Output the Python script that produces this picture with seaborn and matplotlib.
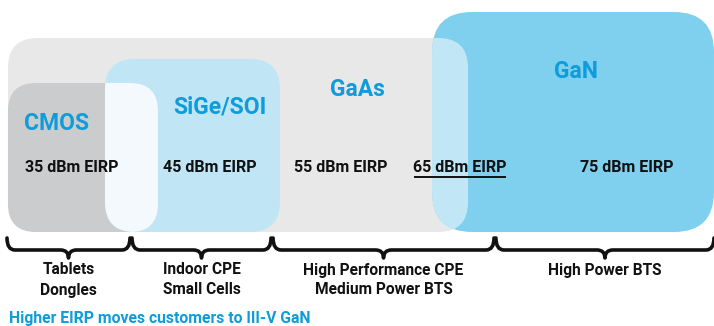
import matplotlib
matplotlib.use("Agg")
import matplotlib.pyplot as plt
from matplotlib.patches import FancyBboxPatch, PathPatch
from matplotlib.path import Path
import seaborn as sns

# Technologies and the EIRP range (dBm) each one covers
technologies = ["CMOS", "SiGe/SOI", "GaAs", "GaN"]
tech_low_dbm = [30.36, 37.39, 30.36, 61.09]
tech_high_dbm = [41.23, 50.07, 63.70, 81.52]

# EIRP levels shown across the chart
eirp_levels = [35, 45, 55, 65, 75]
eirp_labels = [f"{v} dBm EIRP" for v in eirp_levels]

# Application segments with their EIRP spans
applications = ["Tablets\nDongles", "Indoor CPE\nSmall Cells",
                "High Performance CPE\nMedium Power BTS", "High Power BTS"]
app_low_dbm = [30.29, 39.35, 49.57, 65.72]
app_high_dbm = [39.20, 49.42, 65.58, 81.52]

footnote = "Higher EIRP moves customers to III-V GaN"

sns.set_theme(style="white")
plt.rcParams["font.family"] = ["Roboto", "DejaVu Sans"]

W, H = 714, 326
fig = plt.figure(figsize=(W / 100, H / 100), dpi=100)
ax = fig.add_axes([0, 0, 1, 1])
PX = 13.8  # pixels per dBm on the horizontal axis
x_left = 35 - 72 / PX
ax.set_xlim(x_left, x_left + W / PX)
ax.set_ylim(H, 0)
ax.axis("off")

blue_text = "#0e9cdb"
ink = "#111111"

# Box layout (vertical extent in pixel rows, corner radius in pixels)
box_style = {
    "GaAs": dict(top=38, bottom=232, r=30, color="#e8e8e8"),
    "CMOS": dict(top=83, bottom=232, r=28, color="#cbcccd"),
    "SiGe/SOI": dict(top=59, bottom=232, r=30, color="#c0e6f6"),
    "GaN": dict(top=12, bottom=232, r=40, color="#7fcfee"),
}
name_pos = {"CMOS": (33.87, 123), "SiGe/SOI": (45.69, 107),
            "GaAs": (55.72, 89), "GaN": (71.52, 72)}

rng = dict(zip(technologies, zip(tech_low_dbm, tech_high_dbm)))


def rbox(name, color, z):
    s = box_style[name]
    x0, x1 = rng[name]
    p = FancyBboxPatch((x0, s["top"]), x1 - x0, s["bottom"] - s["top"],
                       boxstyle=f"round,pad=0,rounding_size={s['r'] / PX}",
                       mutation_aspect=PX, fc=color, ec="none", zorder=z)
    ax.add_patch(p)
    return p


gaas = rbox("GaAs", box_style["GaAs"]["color"], 1)
cmos = rbox("CMOS", box_style["CMOS"]["color"], 2)
rbox("SiGe/SOI", box_style["SiGe/SOI"]["color"], 3)
# where CMOS and SiGe/SOI overlap
rbox("SiGe/SOI", "#f3f9fc", 4).set_clip_path(cmos)
rbox("GaN", box_style["GaN"]["color"], 5)
# where GaAs and GaN overlap
rbox("GaN", "#c1e7f7", 6).set_clip_path(gaas)

for name in technologies:
    x, y = name_pos[name]
    ax.text(x, y, name, ha="center", va="center", fontsize=16.5,
            fontweight="bold", color=blue_text, zorder=10)

label_shift = [0, 0, -0.5, -1.9, 0.2]
for v, lab, dx in zip(eirp_levels, eirp_labels, label_shift):
    ax.text(v + dx, 167, lab, ha="center", va="center", fontsize=11.5,
            fontweight="bold", color=ink, zorder=10)
    if v == 65:
        ax.plot([v + dx - 3.33, v + dx + 3.33], [176.5, 176.5], color=ink,
                lw=1.4, zorder=10, solid_capstyle="butt")


def brace(x0, x1, ytop=238, ymid=250, ytip=258, c=8 / PX):
    xm = (x0 + x1) / 2
    verts = [(x0, ytop), (x0, ymid), (x0 + c, ymid),
             (xm - c, ymid), (xm, ymid), (xm, ytip),
             (xm, ymid), (xm + c, ymid),
             (x1 - c, ymid), (x1, ymid), (x1, ytop)]
    codes = [Path.MOVETO, Path.CURVE3, Path.CURVE3,
             Path.LINETO, Path.CURVE3, Path.CURVE3,
             Path.CURVE3, Path.CURVE3,
             Path.LINETO, Path.CURVE3, Path.CURVE3]
    ax.add_patch(PathPatch(Path(verts, codes), fc="none", ec=ink,
                           lw=2.6, capstyle="round", joinstyle="round",
                           zorder=10))
    return xm


for lo, hi, app in zip(app_low_dbm, app_high_dbm, applications):
    xm = brace(lo, hi)
    for i, line in enumerate(app.split("\n")):
        ax.text(xm, 270 + 20 * i, line, ha="center", va="center",
                fontsize=11.2, fontweight="bold", color=ink, zorder=10)

ax.text(x_left + 9 / PX, 319, footnote, ha="left", va="center",
        fontsize=11.3, fontweight="bold", color=blue_text, zorder=10)

fig.savefig("out.png", dpi=100)
